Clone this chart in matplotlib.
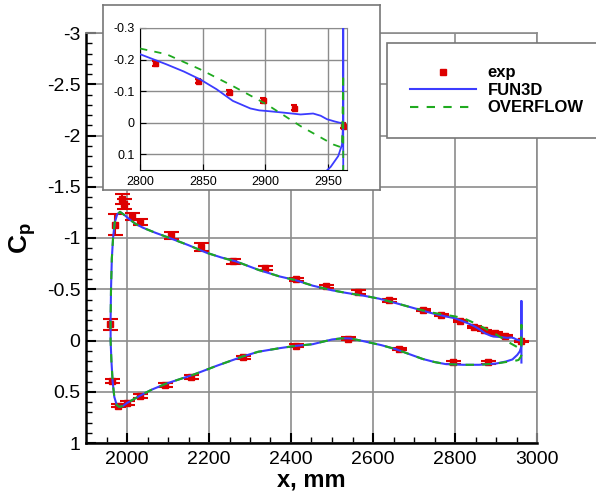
import matplotlib
matplotlib.use('Agg')
import matplotlib.pyplot as plt
from matplotlib.lines import Line2D

plt.rcParams['font.family'] = ['Liberation Sans', 'DejaVu Sans']
plt.rcParams['axes.unicode_minus'] = False
plt.rcParams['mathtext.fontset'] = 'custom'
plt.rcParams['mathtext.bf'] = 'Liberation Sans:bold'
plt.rcParams['mathtext.rm'] = 'Liberation Sans'

# experiment, upper surface
exp_up_x = [1958, 1971, 1989, 1993, 2013, 2031, 2108, 2181, 2258, 2336, 2411, 2486,
            2563, 2640, 2722, 2765, 2812, 2846, 2871, 2898, 2923, 2962]
exp_up_cp = [-0.158, -1.13, -1.38, -1.33, -1.21, -1.16, -1.025, -0.91, -0.774, -0.703,
             -0.596, -0.531, -0.473, -0.392, -0.30, -0.248, -0.188, -0.132, -0.098,
             -0.071, -0.048, 0.009]
exp_up_err = [0.055, 0.10, 0.05, 0.05, 0.03, 0.03, 0.035, 0.037, 0.024, 0.02, 0.015,
              0.015, 0.015, 0.015, 0.012, 0.012, 0.008, 0.007, 0.007, 0.008, 0.008, 0.008]

# experiment, lower surface
exp_lo_x = [1964, 1977, 1999, 2031, 2092, 2157, 2283, 2411, 2540, 2664, 2794, 2880]
exp_lo_cp = [0.394, 0.637, 0.614, 0.545, 0.436, 0.36, 0.163, 0.05, -0.019, 0.085, 0.213, 0.213]
exp_lo_err = [0.02, 0.015, 0.02, 0.02, 0.02, 0.02, 0.015, 0.012, 0.012, 0.012, 0.012, 0.012]

# FUN3D: lower TE -> LE -> upper TE, then TE spike
fun3d_x = [2962, 2961, 2958, 2952, 2940, 2924, 2900, 2859, 2820, 2777, 2750, 2721, 2690,
           2656, 2620, 2575, 2545, 2526, 2500, 2453, 2410, 2372, 2320, 2283, 2220, 2161,
           2096, 2060, 2031, 2000, 1990, 1981, 1975, 1969, 1965, 1962, 1960, 1960, 1961,
           1963, 1966, 1970, 1976, 1983, 1995, 2007, 2020, 2039, 2070, 2104, 2150, 2194,
           2230, 2267, 2320, 2372, 2410, 2453, 2500, 2534, 2580, 2615, 2660, 2696, 2740,
           2777, 2800, 2821, 2835, 2848, 2861, 2874, 2888, 2895, 2901, 2914, 2928, 2938,
           2944, 2949, 2955, 2961, 2962, 2962, 2962]
fun3d_cp = [0.0, 0.07, 0.106, 0.14, 0.185, 0.205, 0.225, 0.237, 0.237, 0.23, 0.21, 0.18,
            0.135, 0.085, 0.045, 0.005, -0.02, -0.022, -0.01, 0.036, 0.053, 0.075, 0.11,
            0.155, 0.245, 0.335, 0.42, 0.48, 0.54, 0.61, 0.64, 0.647, 0.63, 0.55, 0.4, 0.2,
            0.0, -0.2, -0.5, -0.8, -1.0, -1.15, -1.23, -1.255, -1.22, -1.18, -1.14, -1.10,
            -1.05, -1.0, -0.93, -0.856, -0.81, -0.77, -0.69, -0.625, -0.59, -0.535, -0.49,
            -0.465, -0.435, -0.408, -0.36, -0.32, -0.27, -0.235, -0.217, -0.185, -0.162,
            -0.137, -0.106, -0.069, -0.045, -0.039, -0.037, -0.032, -0.026, -0.029, -0.022,
            -0.011, -0.004, 0.002, 0.0, -0.385, 0.215]

# OVERFLOW: lower TE -> LE -> upper TE, then TE base
ovf_x = [2962, 2955, 2940, 2924, 2900, 2859, 2820, 2777, 2750, 2721, 2690, 2656, 2620,
         2575, 2545, 2526, 2500, 2453, 2410, 2372, 2320, 2283, 2220, 2161, 2096, 2060,
         2031, 2000, 1990, 1981, 1975, 1969, 1965, 1962, 1960, 1960, 1961, 1963, 1966,
         1970, 1976, 1983, 1995, 2007, 2020, 2039, 2070, 2104, 2150, 2194, 2230, 2267,
         2320, 2372, 2410, 2453, 2500, 2534, 2580, 2615, 2660, 2696, 2740, 2777, 2800,
         2821, 2848, 2874, 2901, 2928, 2954, 2961, 2962, 2962]
ovf_cp = [0.15, 0.19, 0.205, 0.21, 0.225, 0.237, 0.237, 0.23, 0.21, 0.18, 0.135, 0.085,
          0.045, 0.005, -0.02, -0.022, -0.01, 0.036, 0.053, 0.075, 0.11, 0.155, 0.245,
          0.335, 0.42, 0.48, 0.54, 0.61, 0.64, 0.647, 0.63, 0.55, 0.4, 0.2, 0.0, -0.2,
          -0.5, -0.8, -1.0, -1.15, -1.23, -1.255, -1.22, -1.18, -1.14, -1.10, -1.05,
          -1.0, -0.93, -0.856, -0.81, -0.77, -0.69, -0.625, -0.59, -0.535, -0.49,
          -0.465, -0.435, -0.408, -0.36, -0.32, -0.275, -0.25, -0.235, -0.217, -0.169,
          -0.116, -0.058, 0.011, 0.069, 0.079, -0.153, 0.15]

red = '#dd0000'
blue = '#3c3cff'
green = '#1faa1f'
grid_c = '#8c8c8c'


def draw(ax, ms, cap, lw):
    for x, y, e in [(exp_up_x, exp_up_cp, exp_up_err), (exp_lo_x, exp_lo_cp, exp_lo_err)]:
        ax.errorbar(x, y, yerr=e, fmt='s', color=red, ms=ms, capsize=cap,
                    capthick=1.5, elinewidth=1.5, zorder=2)
    ax.plot(fun3d_x, fun3d_cp, color=blue, lw=lw, zorder=3)
    ax.plot(ovf_x, ovf_cp, color=green, lw=lw, ls=(0, (4, 4)), zorder=4)


fig = plt.figure(figsize=(5.96, 4.97), dpi=100)

ax = fig.add_axes([86/596, 1 - 443/497, 451/596, 410/497])
draw(ax, 5, 5.4, 1.5)
ax.set_xlim(1900, 3000)
ax.set_ylim(1, -3)
ax.set_xticks([2000, 2200, 2400, 2600, 2800, 3000])
ax.set_xticks(range(1950, 3000, 50), minor=True)
ax.set_yticks([-3, -2.5, -2, -1.5, -1, -0.5, 0, 0.5, 1])
ax.set_yticklabels(['-3', '-2.5', '-2', '-1.5', '-1', '-0.5', '0', '0.5', '1'])
ax.set_yticks([v / 10 for v in range(-30, 11)], minor=True)
ax.grid(True, which='major', color=grid_c, lw=1.2)
ax.tick_params(which='both', direction='in', labelsize=14, width=1.5)
ax.tick_params(which='major', length=7)
ax.tick_params(which='minor', length=4, width=1)
ax.tick_params(axis='x', pad=6)
ax.tick_params(axis='y', pad=4)
for s in ['left', 'bottom']:
    ax.spines[s].set_linewidth(1.8)
for s in ['top', 'right']:
    ax.spines[s].set_color(grid_c)
    ax.spines[s].set_linewidth(1.2)
ax.set_xlabel('x, mm', fontsize=17, fontweight='bold', labelpad=0)
ax.set_ylabel(r'$\mathbf{C_p}$', fontsize=19, labelpad=6)

# inset frame
frame = fig.add_axes([103/596, 1 - 190/497, 277/596, 185/497], zorder=5)
frame.set_xticks([])
frame.set_yticks([])
frame.set_facecolor('white')
for s in frame.spines.values():
    s.set_color('#777777')
    s.set_linewidth(1.2)

ins = fig.add_axes([140/596, 1 - 170/497, 207/596, 142/497], zorder=6)
draw(ins, 3.6, 2.5, 1.3)
ins.set_xlim(2800, 2965)
ins.set_ylim(0.15, -0.3)
ins.set_xticks([2800, 2850, 2900, 2950])
ins.set_yticks([-0.3, -0.2, -0.1, 0, 0.1])
ins.set_yticklabels(['-0.3', '-0.2', '-0.1', '0', '0.1'])
ins.grid(True, color=grid_c, lw=1)
ins.tick_params(direction='in', labelsize=9, length=4, pad=4)
for s in ['top', 'right']:
    ins.spines[s].set_color(grid_c)

handles = [Line2D([], [], marker='s', color=red, ls='none', ms=4.5),
           Line2D([], [], color=blue, lw=1.5),
           Line2D([], [], color=green, lw=1.5, ls=(0, (4, 4)))]
leg = fig.legend(handles, ['exp', 'FUN3D', 'OVERFLOW'], loc='upper left',
                 bbox_to_anchor=(387/596, 1 - 43/497), borderaxespad=0,
                 fancybox=False, edgecolor='#777777', framealpha=1,
                 borderpad=1.35, labelspacing=0.15, handlelength=4.0,
                 handletextpad=0.7, prop={'weight': 'bold', 'size': 12})
leg.get_frame().set_linewidth(1.2)
leg.set_zorder(7)

fig.savefig('out.png', dpi=100)
